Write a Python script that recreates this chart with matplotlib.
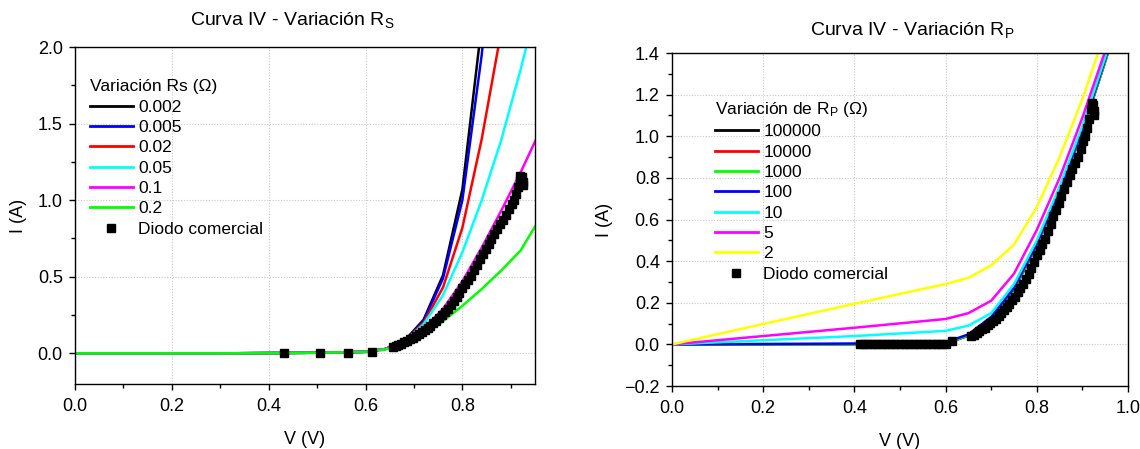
import numpy as np
import matplotlib.pyplot as plt
from matplotlib.ticker import MultipleLocator
from matplotlib.lines import Line2D

plt.rcParams['font.family'] = ['Liberation Sans', 'DejaVu Sans']
plt.rcParams['mathtext.fontset'] = 'custom'
plt.rcParams['mathtext.rm'] = 'Liberation Sans'
plt.rcParams['mathtext.it'] = 'Liberation Sans:italic'

# ---------------------------------------------------------------------
# Datos
# ---------------------------------------------------------------------

# Curvas simuladas, variacion de Rs
v_rs = [0.0, 0.1, 0.2, 0.3, 0.4, 0.5, 0.6, 0.64, 0.68, 0.72, 0.76, 0.80, 0.84, 0.88, 0.92, 0.96]
rs_labels = ["0.002", "0.005", "0.02", "0.05", "0.1", "0.2"]
rs_colors = ["#000000", "#0000FF", "#FF0000", "#00FFFF", "#FF00FF", "#00FF00"]
i_rs_0002 = [0.0, 0.0, 0.0, 0.0, 0.002, 0.004, 0.010, 0.028, 0.08, 0.22, 0.51, 1.07, 2.15, 3.5, 5.0, 6.5]
i_rs_0005 = [0.0, 0.0, 0.0, 0.0, 0.002, 0.004, 0.010, 0.028, 0.08, 0.21, 0.49, 1.00, 1.95, 3.3, 4.8, 6.3]
i_rs_002 = [0.0, 0.0, 0.0, 0.0, 0.002, 0.004, 0.010, 0.028, 0.078, 0.20, 0.43, 0.82, 1.40, 2.1, 3.0, 4.0]
i_rs_005 = [0.0, 0.0, 0.0, 0.0, 0.002, 0.004, 0.010, 0.027, 0.075, 0.19, 0.38, 0.66, 1.00, 1.39, 1.85, 2.35]
i_rs_01 = [0.0, 0.0, 0.0, 0.0, 0.002, 0.004, 0.010, 0.026, 0.07, 0.16, 0.29, 0.47, 0.69, 0.93, 1.18, 1.45]
i_rs_02 = [0.0, 0.0, 0.0, 0.0, 0.002, 0.004, 0.010, 0.025, 0.06, 0.13, 0.21, 0.31, 0.42, 0.54, 0.67, 0.88]

# Curvas simuladas, variacion de Rp
v_rp = [0.0, 0.2, 0.4, 0.6, 0.65, 0.70, 0.75, 0.80, 0.85, 0.90, 0.95, 1.0]
rp_labels = ["100000", "10000", "1000", "100", "10", "5", "2"]
rp_colors = ["#000000", "#FF0000", "#00FF00", "#0000FF", "#00FFFF", "#FF00FF", "#FFFF00"]
i_rp_100000 = [0.0, 0.0, 0.001, 0.004, 0.042, 0.125, 0.265, 0.475, 0.735, 1.025, 1.36, 1.72]
i_rp_10000 = [0.0, 0.0, 0.001, 0.004, 0.042, 0.125, 0.265, 0.475, 0.735, 1.025, 1.36, 1.72]
i_rp_1000 = [0.0, 0.0, 0.001, 0.005, 0.043, 0.126, 0.266, 0.476, 0.736, 1.026, 1.36, 1.72]
i_rp_100 = [0.0, 0.002, 0.004, 0.010, 0.048, 0.132, 0.272, 0.482, 0.742, 1.032, 1.37, 1.73]
i_rp_10 = [0.0, 0.020, 0.040, 0.065, 0.09, 0.15, 0.29, 0.50, 0.76, 1.05, 1.38, 1.74]
i_rp_5 = [0.0, 0.040, 0.080, 0.122, 0.15, 0.21, 0.34, 0.55, 0.80, 1.09, 1.41, 1.77]
i_rp_2 = [0.0, 0.098, 0.195, 0.290, 0.32, 0.38, 0.48, 0.66, 0.90, 1.18, 1.50, 1.85]

# Diodo comercial (medidas)
v_diodo_bajo_izq = [0.431, 0.505, 0.564, 0.614]
i_diodo_bajo_izq = [0.000, 0.001, 0.004, 0.012]
v_diodo_bajo_der = [0.412, 0.420, 0.430, 0.440, 0.450, 0.460, 0.470, 0.480, 0.490, 0.500,
                    0.510, 0.520, 0.530, 0.540, 0.550, 0.560, 0.570, 0.580, 0.590, 0.600, 0.614]
i_diodo_bajo_der = [0.000, 0.000, 0.000, 0.000, 0.000, 0.000, 0.000, 0.000, 0.000, 0.000,
                    0.000, 0.000, 0.000, 0.001, 0.001, 0.001, 0.001, 0.001, 0.002, 0.002, 0.014]
v_diodo = [0.656, 0.662, 0.668, 0.674, 0.680, 0.686, 0.692, 0.698, 0.704, 0.710,
           0.716, 0.722, 0.728, 0.734, 0.740, 0.746, 0.752, 0.758, 0.764, 0.770,
           0.776, 0.782, 0.788, 0.794, 0.800, 0.806, 0.812, 0.818, 0.824, 0.830,
           0.836, 0.842, 0.848, 0.854, 0.860, 0.866, 0.872, 0.878, 0.884, 0.890,
           0.896, 0.902, 0.906, 0.910, 0.914, 0.918, 0.920, 0.924, 0.926, 0.925]
i_diodo = [0.040, 0.047, 0.055, 0.063, 0.072, 0.081, 0.091, 0.101, 0.112, 0.124,
           0.137, 0.150, 0.164, 0.179, 0.195, 0.212, 0.230, 0.250, 0.270, 0.292,
           0.315, 0.340, 0.367, 0.397, 0.428, 0.455, 0.480, 0.505, 0.545, 0.580,
           0.615, 0.648, 0.680, 0.712, 0.745, 0.778, 0.812, 0.845, 0.872, 0.900,
           0.940, 0.975, 1.000, 1.040, 1.085, 1.130, 1.160, 1.150, 1.120, 1.100]

i_rs = [i_rs_0002, i_rs_0005, i_rs_002, i_rs_005, i_rs_01, i_rs_02]
i_rp = [i_rp_100000, i_rp_10000, i_rp_1000, i_rp_100, i_rp_10, i_rp_5, i_rp_2]


def estilo_ejes(ax, xmaj, xmin, ymaj, ymin):
    ax.xaxis.set_major_locator(MultipleLocator(xmaj))
    ax.xaxis.set_minor_locator(MultipleLocator(xmin))
    ax.yaxis.set_major_locator(MultipleLocator(ymaj))
    ax.yaxis.set_minor_locator(MultipleLocator(ymin))
    ax.tick_params(which="major", direction="out", length=4.3, width=1, labelsize=13, top=False, right=False)
    ax.tick_params(which="minor", direction="out", length=3, width=1, top=False, right=False)
    ax.tick_params(axis="x", which="major", pad=6)
    ax.tick_params(axis="y", which="major", pad=4.5)
    ax.grid(True, which="major", color="#c8c8c8", linestyle=(0, (1, 1.5)), linewidth=0.8)
    ax.set_axisbelow(True)
    for s in ax.spines.values():
        s.set_linewidth(1.0)
    ax.set_xlabel("V (V)", fontsize=13, labelpad=11)
    ax.set_ylabel("I (A)", fontsize=13, labelpad=8)


fig = plt.figure(figsize=(11.4, 4.49), dpi=100)

# ---------------------------- Rs ----------------------------
ax1 = fig.add_axes([0.0658, 0.1448, 0.4035, 0.7505])
for ii, lab, col in zip(i_rs, rs_labels, rs_colors):
    ax1.plot(v_rs, ii, color=col, lw=1.8, label=lab)
ax1.plot(v_diodo_bajo_izq, i_diodo_bajo_izq, ls="none", marker="s", ms=6, color="black")
ax1.plot(v_diodo, i_diodo, ls="none", marker="s", ms=6, color="black")
ax1.set_xlim(0, 0.95)
ax1.set_ylim(-0.2, 2.0)
estilo_ejes(ax1, 0.2, 0.1, 0.5, 0.25)
ax1.set_title("Curva IV - Variación R$_\\mathrm{S}$", fontsize=14, pad=16, x=0.472)

h1 = [Line2D([], [], color=c, lw=2) for c in rs_colors]
h1.append(Line2D([], [], ls="none", marker="s", ms=6, color="black"))
leg1 = ax1.legend(h1, rs_labels + ["Diodo comercial"], title="Variación Rs (Ω)",
                  loc="upper left", bbox_to_anchor=(0.017, 0.925), frameon=False,
                  fontsize=12.5, title_fontsize=12.5, handlelength=2.48, handletextpad=0.32,
                  labelspacing=0.3, borderaxespad=0.0)
leg1._legend_box.align = "left"

# ---------------------------- Rp ----------------------------
ax2 = fig.add_axes([0.5895, 0.1403, 0.4, 0.7416])
for ii, lab, col in zip(i_rp, rp_labels, rp_colors):
    ax2.plot(v_rp, ii, color=col, lw=1.8, label=lab)
ax2.plot(v_diodo_bajo_der, i_diodo_bajo_der, ls="none", marker="s", ms=6, color="black")
ax2.plot(v_diodo, i_diodo, ls="none", marker="s", ms=6, color="black")
ax2.set_xlim(0, 1.0)
ax2.set_ylim(-0.2, 1.4)
estilo_ejes(ax2, 0.2, 0.1, 0.2, 0.1)
ax2.set_title("Curva IV - Variación R$_\\mathrm{P}$", fontsize=14, pad=13, x=0.526)

h2 = [Line2D([], [], color=c, lw=2) for c in rp_colors]
h2.append(Line2D([], [], ls="none", marker="s", ms=6, color="black"))
leg2 = ax2.legend(h2, rp_labels + ["Diodo comercial"], title="Variación de R$_\\mathrm{P}$ (Ω)",
                  loc="upper left", bbox_to_anchor=(0.078, 0.88), frameon=False,
                  fontsize=12.5, title_fontsize=12.5, handlelength=2.48, handletextpad=0.32,
                  labelspacing=0.3, borderaxespad=0.0)
leg2._legend_box.align = "left"

fig.savefig("out.png", dpi=100)
